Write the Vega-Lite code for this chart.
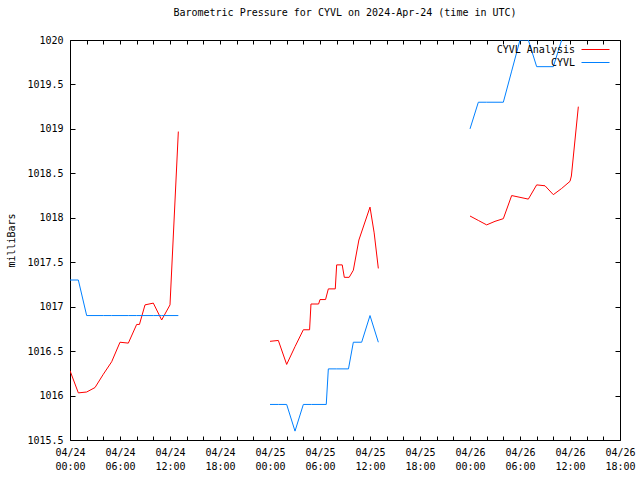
{
  "$schema": "https://vega.github.io/schema/vega-lite/v6.json",
  "width": 550,
  "height": 400,
  "autosize": {"type": "none"},
  "padding": {"left": 70, "top": 40, "right": 20, "bottom": 40},
  "background": "white",
  "title": {"text": "Barometric Pressure for CYVL on 2024-Apr-24 (time in UTC)", "font": "DejaVu Sans Mono", "fontSize": 10, "fontWeight": "normal", "color": "black", "offset": -5, "anchor": "middle", "frame": "group"},
  "config": {"view": {"stroke": "black", "strokeWidth": 1}},
  "data": {"values": [
    {"t": "2024-04-24T00:00:00Z", "p": 1016.28, "series": "CYVL Analysis", "seg": 1},
    {"t": "2024-04-24T01:00:00Z", "p": 1016.03, "series": "CYVL Analysis", "seg": 1},
    {"t": "2024-04-24T02:00:00Z", "p": 1016.04, "series": "CYVL Analysis", "seg": 1},
    {"t": "2024-04-24T03:00:00Z", "p": 1016.09, "series": "CYVL Analysis", "seg": 1},
    {"t": "2024-04-24T04:00:00Z", "p": 1016.24, "series": "CYVL Analysis", "seg": 1},
    {"t": "2024-04-24T05:00:00Z", "p": 1016.38, "series": "CYVL Analysis", "seg": 1},
    {"t": "2024-04-24T06:00:00Z", "p": 1016.60, "series": "CYVL Analysis", "seg": 1},
    {"t": "2024-04-24T07:00:00Z", "p": 1016.59, "series": "CYVL Analysis", "seg": 1},
    {"t": "2024-04-24T08:00:00Z", "p": 1016.80, "series": "CYVL Analysis", "seg": 1},
    {"t": "2024-04-24T08:20:00Z", "p": 1016.80, "series": "CYVL Analysis", "seg": 1},
    {"t": "2024-04-24T09:00:00Z", "p": 1017.02, "series": "CYVL Analysis", "seg": 1},
    {"t": "2024-04-24T10:00:00Z", "p": 1017.04, "series": "CYVL Analysis", "seg": 1},
    {"t": "2024-04-24T11:00:00Z", "p": 1016.85, "series": "CYVL Analysis", "seg": 1},
    {"t": "2024-04-24T12:00:00Z", "p": 1017.02, "series": "CYVL Analysis", "seg": 1},
    {"t": "2024-04-24T13:00:00Z", "p": 1018.97, "series": "CYVL Analysis", "seg": 1},
    {"t": "2024-04-25T00:00:00Z", "p": 1016.61, "series": "CYVL Analysis", "seg": 2},
    {"t": "2024-04-25T01:00:00Z", "p": 1016.62, "series": "CYVL Analysis", "seg": 2},
    {"t": "2024-04-25T02:00:00Z", "p": 1016.35, "series": "CYVL Analysis", "seg": 2},
    {"t": "2024-04-25T03:00:00Z", "p": 1016.55, "series": "CYVL Analysis", "seg": 2},
    {"t": "2024-04-25T04:00:00Z", "p": 1016.74, "series": "CYVL Analysis", "seg": 2},
    {"t": "2024-04-25T04:45:00Z", "p": 1016.74, "series": "CYVL Analysis", "seg": 2},
    {"t": "2024-04-25T04:55:00Z", "p": 1017.03, "series": "CYVL Analysis", "seg": 2},
    {"t": "2024-04-25T05:50:00Z", "p": 1017.03, "series": "CYVL Analysis", "seg": 2},
    {"t": "2024-04-25T06:00:00Z", "p": 1017.08, "series": "CYVL Analysis", "seg": 2},
    {"t": "2024-04-25T06:40:00Z", "p": 1017.08, "series": "CYVL Analysis", "seg": 2},
    {"t": "2024-04-25T07:00:00Z", "p": 1017.20, "series": "CYVL Analysis", "seg": 2},
    {"t": "2024-04-25T07:50:00Z", "p": 1017.20, "series": "CYVL Analysis", "seg": 2},
    {"t": "2024-04-25T08:00:00Z", "p": 1017.47, "series": "CYVL Analysis", "seg": 2},
    {"t": "2024-04-25T08:40:00Z", "p": 1017.47, "series": "CYVL Analysis", "seg": 2},
    {"t": "2024-04-25T08:55:00Z", "p": 1017.33, "series": "CYVL Analysis", "seg": 2},
    {"t": "2024-04-25T09:30:00Z", "p": 1017.33, "series": "CYVL Analysis", "seg": 2},
    {"t": "2024-04-25T10:00:00Z", "p": 1017.41, "series": "CYVL Analysis", "seg": 2},
    {"t": "2024-04-25T10:40:00Z", "p": 1017.75, "series": "CYVL Analysis", "seg": 2},
    {"t": "2024-04-25T12:00:00Z", "p": 1018.12, "series": "CYVL Analysis", "seg": 2},
    {"t": "2024-04-25T12:30:00Z", "p": 1017.83, "series": "CYVL Analysis", "seg": 2},
    {"t": "2024-04-25T13:00:00Z", "p": 1017.43, "series": "CYVL Analysis", "seg": 2},
    {"t": "2024-04-26T00:00:00Z", "p": 1018.02, "series": "CYVL Analysis", "seg": 3},
    {"t": "2024-04-26T01:00:00Z", "p": 1017.97, "series": "CYVL Analysis", "seg": 3},
    {"t": "2024-04-26T02:00:00Z", "p": 1017.92, "series": "CYVL Analysis", "seg": 3},
    {"t": "2024-04-26T03:00:00Z", "p": 1017.96, "series": "CYVL Analysis", "seg": 3},
    {"t": "2024-04-26T04:00:00Z", "p": 1017.99, "series": "CYVL Analysis", "seg": 3},
    {"t": "2024-04-26T05:00:00Z", "p": 1018.25, "series": "CYVL Analysis", "seg": 3},
    {"t": "2024-04-26T06:00:00Z", "p": 1018.23, "series": "CYVL Analysis", "seg": 3},
    {"t": "2024-04-26T07:00:00Z", "p": 1018.21, "series": "CYVL Analysis", "seg": 3},
    {"t": "2024-04-26T08:00:00Z", "p": 1018.37, "series": "CYVL Analysis", "seg": 3},
    {"t": "2024-04-26T09:00:00Z", "p": 1018.36, "series": "CYVL Analysis", "seg": 3},
    {"t": "2024-04-26T10:00:00Z", "p": 1018.26, "series": "CYVL Analysis", "seg": 3},
    {"t": "2024-04-26T11:00:00Z", "p": 1018.33, "series": "CYVL Analysis", "seg": 3},
    {"t": "2024-04-26T12:00:00Z", "p": 1018.41, "series": "CYVL Analysis", "seg": 3},
    {"t": "2024-04-26T12:10:00Z", "p": 1018.47, "series": "CYVL Analysis", "seg": 3},
    {"t": "2024-04-26T13:00:00Z", "p": 1019.25, "series": "CYVL Analysis", "seg": 3},
    {"t": "2024-04-24T00:00:00Z", "p": 1017.3, "series": "CYVL", "seg": 4},
    {"t": "2024-04-24T01:00:00Z", "p": 1017.3, "series": "CYVL", "seg": 4},
    {"t": "2024-04-24T02:00:00Z", "p": 1016.9, "series": "CYVL", "seg": 4},
    {"t": "2024-04-24T03:00:00Z", "p": 1016.9, "series": "CYVL", "seg": 4},
    {"t": "2024-04-24T04:00:00Z", "p": 1016.9, "series": "CYVL", "seg": 4},
    {"t": "2024-04-24T05:00:00Z", "p": 1016.9, "series": "CYVL", "seg": 4},
    {"t": "2024-04-24T06:00:00Z", "p": 1016.9, "series": "CYVL", "seg": 4},
    {"t": "2024-04-24T07:00:00Z", "p": 1016.9, "series": "CYVL", "seg": 4},
    {"t": "2024-04-24T08:00:00Z", "p": 1016.9, "series": "CYVL", "seg": 4},
    {"t": "2024-04-24T09:00:00Z", "p": 1016.9, "series": "CYVL", "seg": 4},
    {"t": "2024-04-24T10:00:00Z", "p": 1016.9, "series": "CYVL", "seg": 4},
    {"t": "2024-04-24T11:00:00Z", "p": 1016.9, "series": "CYVL", "seg": 4},
    {"t": "2024-04-24T12:00:00Z", "p": 1016.9, "series": "CYVL", "seg": 4},
    {"t": "2024-04-24T13:00:00Z", "p": 1016.9, "series": "CYVL", "seg": 4},
    {"t": "2024-04-25T00:00:00Z", "p": 1015.9, "series": "CYVL", "seg": 5},
    {"t": "2024-04-25T01:00:00Z", "p": 1015.9, "series": "CYVL", "seg": 5},
    {"t": "2024-04-25T02:00:00Z", "p": 1015.9, "series": "CYVL", "seg": 5},
    {"t": "2024-04-25T03:00:00Z", "p": 1015.6, "series": "CYVL", "seg": 5},
    {"t": "2024-04-25T04:00:00Z", "p": 1015.9, "series": "CYVL", "seg": 5},
    {"t": "2024-04-25T05:00:00Z", "p": 1015.9, "series": "CYVL", "seg": 5},
    {"t": "2024-04-25T06:00:00Z", "p": 1015.9, "series": "CYVL", "seg": 5},
    {"t": "2024-04-25T06:45:00Z", "p": 1015.9, "series": "CYVL", "seg": 5},
    {"t": "2024-04-25T07:00:00Z", "p": 1016.3, "series": "CYVL", "seg": 5},
    {"t": "2024-04-25T08:00:00Z", "p": 1016.3, "series": "CYVL", "seg": 5},
    {"t": "2024-04-25T09:00:00Z", "p": 1016.3, "series": "CYVL", "seg": 5},
    {"t": "2024-04-25T09:25:00Z", "p": 1016.3, "series": "CYVL", "seg": 5},
    {"t": "2024-04-25T10:00:00Z", "p": 1016.6, "series": "CYVL", "seg": 5},
    {"t": "2024-04-25T11:00:00Z", "p": 1016.6, "series": "CYVL", "seg": 5},
    {"t": "2024-04-25T12:00:00Z", "p": 1016.9, "series": "CYVL", "seg": 5},
    {"t": "2024-04-25T13:00:00Z", "p": 1016.6, "series": "CYVL", "seg": 5},
    {"t": "2024-04-26T00:00:00Z", "p": 1019.0, "series": "CYVL", "seg": 6},
    {"t": "2024-04-26T01:00:00Z", "p": 1019.3, "series": "CYVL", "seg": 6},
    {"t": "2024-04-26T02:00:00Z", "p": 1019.3, "series": "CYVL", "seg": 6},
    {"t": "2024-04-26T03:00:00Z", "p": 1019.3, "series": "CYVL", "seg": 6},
    {"t": "2024-04-26T04:00:00Z", "p": 1019.3, "series": "CYVL", "seg": 6},
    {"t": "2024-04-26T05:00:00Z", "p": 1019.65, "series": "CYVL", "seg": 6},
    {"t": "2024-04-26T06:00:00Z", "p": 1020.0, "series": "CYVL", "seg": 6},
    {"t": "2024-04-26T07:00:00Z", "p": 1020.0, "series": "CYVL", "seg": 6},
    {"t": "2024-04-26T08:00:00Z", "p": 1019.7, "series": "CYVL", "seg": 6},
    {"t": "2024-04-26T09:00:00Z", "p": 1019.7, "series": "CYVL", "seg": 6},
    {"t": "2024-04-26T10:00:00Z", "p": 1019.7, "series": "CYVL", "seg": 6},
    {"t": "2024-04-26T11:00:00Z", "p": 1020.0, "series": "CYVL", "seg": 6},
    {"t": "2024-04-26T12:00:00Z", "p": 1020.3, "series": "CYVL", "seg": 6},
    {"t": "2024-04-26T13:00:00Z", "p": 1020.3, "series": "CYVL", "seg": 6}
  ]},
  "layer": [
    {
      "mark": {"type": "line", "strokeWidth": 1, "clip": true},
      "encoding": {
        "x": {"field": "t", "type": "temporal",
          "scale": {"type": "utc", "nice": false, "domain": [1713916800000, 1714154400000]},
          "axis": {"orient": "bottom", "title": null, "grid": false, "domain": false,
            "values": [1713916800000, 1713924000000, 1713931200000, 1713938400000, 1713945600000, 1713952800000, 1713960000000, 1713967200000, 1713974400000, 1713981600000, 1713988800000, 1713996000000, 1714003200000, 1714010400000, 1714017600000, 1714024800000, 1714032000000, 1714039200000, 1714046400000, 1714053600000, 1714060800000, 1714068000000, 1714075200000, 1714082400000, 1714089600000, 1714096800000, 1714104000000, 1714111200000, 1714118400000, 1714125600000, 1714132800000, 1714140000000, 1714147200000, 1714154400000],
            "tickSize": -4, "tickColor": "black", "labelPadding": 11,
            "labelExpr": "utchours(datum.value) % 6 == 0 ? [utcFormat(datum.value, '%m/%d'), utcFormat(datum.value, '%H:%M')] : ''",
            "labelOverlap": false, "labelFlush": false, "labelFont": "DejaVu Sans Mono", "labelFontSize": 10, "labelColor": "black", "labelLineHeight": 14, "labelBaseline": "top"}},
        "y": {"field": "p", "type": "quantitative",
          "scale": {"domain": [1015.5, 1020], "nice": false, "zero": false},
          "axis": {"orient": "left", "grid": false, "domain": false, "values": [1015.5, 1016, 1016.5, 1017, 1017.5, 1018, 1018.5, 1019, 1019.5, 1020], "format": ".1~f", "tickSize": -5, "tickColor": "black", "labelPadding": 12, "labelFont": "DejaVu Sans Mono", "labelFontSize": 10, "labelColor": "black",
            "title": "milliBars", "titleFont": "DejaVu Sans Mono", "titleFontSize": 10, "titleFontWeight": "normal", "titleColor": "black", "titleX": -59, "titleY": 200, "titleAngle": -90, "titleAlign": "center", "titleBaseline": "middle"}},
        "color": {"field": "series", "type": "nominal",
          "scale": {"domain": ["CYVL Analysis", "CYVL"], "range": ["#ff0000", "#0080ff"]},
          "legend": {"orient": "none", "legendX": 520, "legendY": 4, "title": null, "symbolType": "M-2.8,0H2.8", "symbolSize": 100, "symbolStrokeWidth": 1, "labelAlign": "right", "labelOffset": -26, "labelFont": "DejaVu Sans Mono", "labelFontSize": 10, "labelColor": "black", "rowPadding": 2, "padding": 0}},
        "detail": {"field": "seg", "type": "nominal"}
      }
    },
    {
      "mark": {"type": "line", "opacity": 0},
      "encoding": {
        "x": {"field": "t", "type": "temporal",
          "scale": {"type": "utc", "nice": false, "domain": [1713916800000, 1714154400000]},
          "axis": {"orient": "top", "title": null, "grid": false, "domain": false, "labels": false,
            "values": [1713916800000, 1713924000000, 1713931200000, 1713938400000, 1713945600000, 1713952800000, 1713960000000, 1713967200000, 1713974400000, 1713981600000, 1713988800000, 1713996000000, 1714003200000, 1714010400000, 1714017600000, 1714024800000, 1714032000000, 1714039200000, 1714046400000, 1714053600000, 1714060800000, 1714068000000, 1714075200000, 1714082400000, 1714089600000, 1714096800000, 1714104000000, 1714111200000, 1714118400000, 1714125600000, 1714132800000, 1714140000000, 1714147200000, 1714154400000],
            "tickSize": -4, "tickColor": "black"}},
        "y": {"field": "p", "type": "quantitative",
          "scale": {"domain": [1015.5, 1020], "nice": false, "zero": false},
          "axis": {"orient": "right", "title": null, "grid": false, "domain": false, "labels": false, "values": [1015.5, 1016, 1016.5, 1017, 1017.5, 1018, 1018.5, 1019, 1019.5, 1020], "tickSize": -5, "tickColor": "black"}},
        "detail": {"field": "seg", "type": "nominal"}
      }
    }
  ],
  "resolve": {"axis": {"x": "independent", "y": "independent"}}
}
